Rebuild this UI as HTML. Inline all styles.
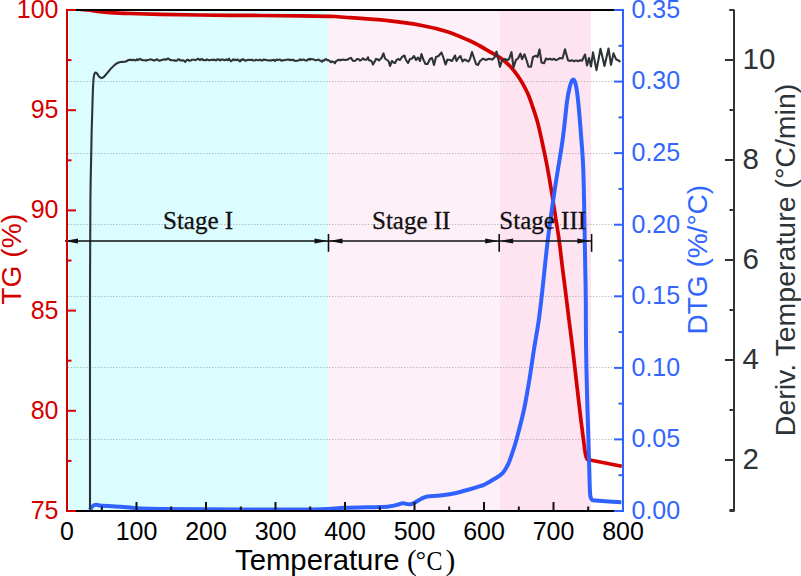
<!DOCTYPE html>
<html><head><meta charset="utf-8"><style>
html,body{margin:0;padding:0;background:#fff;width:801px;height:576px;overflow:hidden}
svg{display:block;font-family:"Liberation Sans", sans-serif}
</style></head><body>
<svg width="801" height="576" viewBox="0 0 801 576" font-family="Liberation Sans">
<rect x="0" y="0" width="801" height="576" fill="#fff"/>
<rect x="67.0" y="10.0" width="261.5" height="501.0" fill="#dcfdff"/>
<rect x="328.5" y="10.0" width="171.3" height="501.0" fill="#fef0f8"/>
<rect x="499.8" y="10.0" width="91.19999999999999" height="501.0" fill="#fde4f0"/>
<line x1="68.0" y1="439.5" x2="612" y2="439.5" stroke="#8c9696" stroke-opacity="0.55" stroke-width="1" stroke-dasharray="1.5 1.5"/>
<line x1="68.0" y1="367.5" x2="612" y2="367.5" stroke="#8c9696" stroke-opacity="0.55" stroke-width="1" stroke-dasharray="1.5 1.5"/>
<line x1="68.0" y1="296.5" x2="612" y2="296.5" stroke="#8c9696" stroke-opacity="0.55" stroke-width="1" stroke-dasharray="1.5 1.5"/>
<line x1="68.0" y1="224.5" x2="612" y2="224.5" stroke="#8c9696" stroke-opacity="0.55" stroke-width="1" stroke-dasharray="1.5 1.5"/>
<line x1="68.0" y1="153.5" x2="612" y2="153.5" stroke="#8c9696" stroke-opacity="0.55" stroke-width="1" stroke-dasharray="1.5 1.5"/>
<line x1="68.0" y1="81.5" x2="612" y2="81.5" stroke="#8c9696" stroke-opacity="0.55" stroke-width="1" stroke-dasharray="1.5 1.5"/>
<defs><clipPath id="pc"><rect x="67" y="10.2" width="556" height="500.8"/></clipPath></defs>
<path clip-path="url(#pc)" d="M76.00 8.60 C78.00 8.83 84.33 9.52 88.00 10.00 C91.67 10.48 94.33 11.07 98.00 11.50 C101.67 11.93 104.67 12.27 110.00 12.60 C115.33 12.93 121.67 13.22 130.00 13.50 C138.33 13.78 148.33 14.05 160.00 14.30 C171.67 14.55 183.33 14.80 200.00 15.00 C216.67 15.20 243.33 15.37 260.00 15.50 C276.67 15.63 288.33 15.67 300.00 15.80 C311.67 15.93 323.17 16.10 330.00 16.30 C336.83 16.50 332.05 16.35 341.00 17.00 C349.95 17.65 370.22 18.78 383.70 20.20 C397.18 21.62 411.28 23.57 421.90 25.50 C432.52 27.43 439.62 29.33 447.40 31.80 C455.18 34.27 463.17 37.93 468.60 40.30 C474.03 42.67 476.43 44.08 480.00 46.00 C483.57 47.92 486.63 49.83 490.00 51.80 C493.37 53.77 496.77 55.32 500.20 57.80 C503.63 60.28 507.65 63.67 510.60 66.70 C513.55 69.73 515.82 73.05 517.90 76.00 C519.98 78.95 521.37 81.27 523.10 84.40 C524.83 87.53 526.73 91.15 528.30 94.80 C529.87 98.45 530.97 101.77 532.50 106.30 C534.03 110.83 535.97 116.38 537.50 122.00 C539.03 127.62 540.13 132.83 541.70 140.00 C543.27 147.17 545.30 156.67 546.90 165.00 C548.50 173.33 549.92 181.67 551.30 190.00 C552.68 198.33 553.90 206.67 555.20 215.00 C556.50 223.33 557.95 231.67 559.10 240.00 C560.25 248.33 561.07 256.67 562.10 265.00 C563.13 273.33 564.15 280.83 565.30 290.00 C566.45 299.17 567.75 310.00 569.00 320.00 C570.25 330.00 571.40 338.33 572.80 350.00 C574.20 361.67 576.05 378.33 577.40 390.00 C578.75 401.67 579.88 411.67 580.90 420.00 C581.92 428.33 582.72 434.17 583.50 440.00 C584.28 445.83 584.95 451.75 585.60 455.00 C586.25 458.25 587.10 458.75 587.40 459.50 L621.8 466.2" fill="none" stroke="#d40000" stroke-width="3.7" stroke-linejoin="round"/>
<path d="M90.00 510.00 C90.25 509.58 90.83 508.30 91.50 507.50 C92.17 506.70 93.08 505.65 94.00 505.20 C94.92 504.75 96.00 504.77 97.00 504.80 C98.00 504.83 97.00 505.12 100.00 505.40 C103.00 505.68 110.00 506.15 115.00 506.50 C120.00 506.85 125.83 507.18 130.00 507.50 C134.17 507.82 135.00 508.15 140.00 508.40 C145.00 508.65 150.00 508.85 160.00 509.00 C170.00 509.15 180.00 509.22 200.00 509.30 C220.00 509.38 259.67 509.52 280.00 509.50 C300.33 509.48 311.17 509.48 322.00 509.20 C332.83 508.92 335.33 508.17 345.00 507.80 C354.67 507.43 372.50 507.25 380.00 507.00 C387.50 506.75 387.00 506.72 390.00 506.30 C393.00 505.88 395.92 505.02 398.00 504.50 C400.08 503.98 401.00 503.28 402.50 503.20 C404.00 503.12 405.58 503.83 407.00 504.00 C408.42 504.17 409.67 504.45 411.00 504.20 C412.33 503.95 413.33 503.37 415.00 502.50 C416.67 501.63 418.92 500.00 421.00 499.00 C423.08 498.00 424.33 497.07 427.50 496.50 C430.67 495.93 435.42 496.15 440.00 495.60 C444.58 495.05 450.00 494.27 455.00 493.20 C460.00 492.13 465.83 490.37 470.00 489.20 C474.17 488.03 477.47 487.03 480.00 486.20 C482.53 485.37 482.77 485.43 485.20 484.20 C487.63 482.97 491.65 480.70 494.60 478.80 C497.55 476.90 500.63 475.23 502.90 472.80 C505.17 470.37 506.63 467.52 508.20 464.20 C509.77 460.88 510.92 457.03 512.30 452.90 C513.68 448.77 514.57 446.55 516.50 439.40 C518.43 432.25 521.82 419.57 523.90 410.00 C525.98 400.43 527.33 392.00 529.00 382.00 C530.67 372.00 532.27 360.33 533.90 350.00 C535.53 339.67 537.38 330.00 538.80 320.00 C540.22 310.00 540.90 303.33 542.40 290.00 C543.90 276.67 545.75 256.67 547.80 240.00 C549.85 223.33 552.23 206.67 554.70 190.00 C557.17 173.33 560.55 154.72 562.60 140.00 C564.65 125.28 565.77 110.70 567.00 101.70 C568.23 92.70 569.02 89.68 570.00 86.00 C570.98 82.32 571.97 79.93 572.90 79.60 C573.83 79.27 574.72 80.32 575.60 84.00 C576.48 87.68 577.23 92.37 578.20 101.70 C579.17 111.03 580.55 128.62 581.40 140.00 C582.25 151.38 582.77 155.00 583.30 170.00 C583.83 185.00 584.27 213.33 584.60 230.00 C584.93 246.67 585.10 258.33 585.30 270.00 C585.50 281.67 585.67 286.67 585.80 300.00 C585.93 313.33 585.87 333.33 586.10 350.00 C586.33 366.67 586.92 388.33 587.20 400.00 C587.48 411.67 587.55 411.67 587.80 420.00 C588.05 428.33 588.45 441.67 588.70 450.00 C588.95 458.33 589.13 464.17 589.30 470.00 C589.47 475.83 589.57 481.00 589.70 485.00 C589.83 489.00 589.90 491.80 590.10 494.00 C590.30 496.20 590.48 497.20 590.90 498.20 C591.32 499.20 591.83 499.60 592.60 500.00 C593.37 500.40 590.70 500.23 595.50 500.60 C600.30 500.97 617.08 501.93 621.40 502.20" fill="none" stroke="#3062ff" stroke-width="4" stroke-linejoin="round"/>
<path d="M90.00 509.50 C90.00 494.58 90.00 453.92 90.00 420.00 C90.00 386.08 89.93 342.50 90.00 306.00 C90.07 269.50 90.18 226.83 90.40 201.00 C90.62 175.17 91.08 162.83 91.30 151.00 C91.52 139.17 91.53 136.83 91.70 130.00 C91.87 123.17 92.10 116.67 92.30 110.00 C92.50 103.33 92.72 94.83 92.90 90.00 C93.08 85.17 93.23 83.33 93.40 81.00 C93.57 78.67 93.60 77.40 93.90 76.00 C94.20 74.60 94.68 73.02 95.20 72.60 C95.72 72.18 96.37 72.85 97.00 73.50 C97.63 74.15 98.27 75.75 99.00 76.50 C99.73 77.25 100.65 77.88 101.40 78.00 C102.15 78.12 102.73 77.78 103.50 77.20 C104.27 76.62 105.17 75.45 106.00 74.50 C106.83 73.55 107.67 72.50 108.50 71.50 C109.33 70.50 110.02 69.55 111.00 68.50 C111.98 67.45 113.40 66.08 114.40 65.20 C115.40 64.32 115.97 63.73 117.00 63.20 C118.03 62.67 119.43 62.23 120.60 62.00 C121.77 61.77 123.10 61.88 124.00 61.80 C124.90 61.72 125.33 61.77 126.00 61.50 C126.67 61.23 127.33 60.48 128.00 60.20 C128.67 59.92 129.67 59.87 130.00 59.80 L131.0 59.9 L132.0 60.2 L133.0 59.7 L134.0 59.8 L135.0 60.4 L136.0 60.3 L137.0 59.4 L138.0 60.1 L139.0 59.3 L140.0 58.9 L141.0 59.7 L142.0 59.9 L143.0 60.1 L144.0 60.2 L145.0 60.3 L146.0 60.7 L147.0 60.1 L148.0 60.0 L149.0 59.8 L150.0 59.5 L151.0 59.4 L152.0 59.9 L153.0 60.0 L154.0 60.6 L155.0 60.2 L156.0 59.7 L157.0 59.2 L158.0 60.1 L159.0 60.7 L160.0 60.4 L161.0 60.4 L162.0 59.9 L163.0 59.5 L164.0 59.6 L165.0 59.2 L166.0 59.8 L167.0 59.1 L168.0 58.5 L169.0 58.9 L170.0 60.0 L171.0 60.1 L172.0 60.2 L173.0 60.3 L174.0 60.4 L175.0 60.6 L176.0 60.5 L177.0 60.6 L178.0 59.4 L179.0 59.2 L180.0 60.4 L181.0 60.3 L182.0 60.4 L183.0 60.3 L184.0 60.7 L185.0 61.9 L186.0 60.9 L187.0 59.8 L188.0 59.7 L189.0 60.8 L190.0 60.6 L191.0 60.4 L192.0 59.7 L193.0 59.8 L194.0 59.8 L195.0 60.1 L196.0 60.0 L197.0 59.3 L198.0 58.7 L199.0 59.3 L200.0 60.1 L201.0 59.4 L202.0 58.9 L203.0 60.0 L204.0 60.3 L205.0 60.0 L206.0 60.2 L207.0 59.4 L208.0 59.9 L209.0 60.4 L210.0 60.0 L211.0 60.0 L212.0 59.6 L213.0 60.2 L214.0 59.6 L215.0 59.9 L216.0 60.5 L217.0 59.6 L218.0 59.3 L219.0 59.8 L220.0 60.4 L221.0 59.4 L222.0 59.8 L223.0 59.6 L224.0 59.9 L225.0 60.2 L226.0 59.4 L227.0 59.9 L228.0 60.1 L229.0 58.7 L230.0 60.3 L231.0 61.3 L232.0 60.5 L233.0 59.4 L234.0 60.2 L235.0 59.5 L236.0 60.1 L237.0 59.9 L238.0 59.5 L239.0 60.6 L240.0 61.4 L241.0 59.9 L242.0 60.1 L243.0 59.0 L244.0 59.8 L245.0 60.7 L246.0 60.4 L247.0 60.2 L248.0 59.8 L249.0 60.0 L250.0 59.9 L251.0 60.0 L252.0 59.6 L253.0 60.5 L254.0 60.5 L255.0 60.4 L256.0 59.7 L257.0 60.0 L258.0 60.2 L259.0 60.2 L260.0 59.5 L261.0 60.2 L262.0 60.6 L263.0 60.0 L264.0 59.5 L265.0 59.9 L266.0 59.9 L267.0 60.3 L268.0 60.4 L269.0 60.5 L270.0 60.4 L271.0 60.3 L272.0 60.4 L273.0 59.8 L274.0 59.9 L275.0 60.9 L276.0 59.9 L277.0 59.5 L278.0 60.0 L279.0 59.8 L280.0 59.5 L281.0 60.4 L282.0 60.7 L283.0 60.0 L284.0 60.3 L285.0 60.1 L286.0 59.8 L287.0 59.8 L288.0 59.6 L289.0 59.5 L290.0 60.1 L291.0 59.7 L292.0 60.2 L293.0 59.7 L294.0 60.2 L295.0 60.9 L296.0 61.0 L297.0 60.7 L298.0 60.5 L299.0 60.2 L300.0 59.3 L301.0 60.1 L302.0 59.9 L303.0 59.5 L304.0 59.8 L305.0 60.3 L306.0 60.6 L307.0 60.4 L308.0 59.5 L309.0 59.0 L310.0 59.6 L311.0 58.9 L312.0 59.2 L313.0 59.3 L314.0 59.6 L315.0 60.2 L316.0 60.2 L317.0 60.1 L318.0 59.6 L319.0 59.8 L320.0 60.6 L321.0 60.8 L322.0 61.7 L323.0 60.4 L324.0 60.6 L325.0 59.5 L326.0 59.1 L327.0 60.1 L328.0 60.0 L329.0 60.4 L330.0 61.4 L331.0 62.3 L332.0 61.4 L333.0 61.7 L334.0 62.2 L335.0 63.3 L336.0 61.1 L337.0 60.7 L338.0 59.9 L339.0 59.8 L340.0 60.4 L341.0 59.7 L342.0 60.0 L343.0 59.6 L344.0 59.7 L345.0 59.9 L346.0 60.0 L347.0 59.6 L348.0 59.4 L349.0 58.6 L350.0 58.2 L351.0 57.9 L352.0 59.4 L353.0 60.8 L354.0 61.0 L355.0 60.8 L356.0 60.0 L357.0 59.1 L358.0 59.0 L359.0 59.4 L360.0 60.6 L361.0 60.1 L362.0 59.3 L363.0 58.3 L364.0 59.3 L365.0 59.8 L366.0 59.7 L367.0 59.3 L368.0 57.3 L369.0 60.3 L370.0 60.5 L371.0 60.8 L372.0 61.9 L373.0 64.6 L374.0 62.6 L375.0 61.2 L376.0 58.9 L377.0 59.4 L378.0 59.4 L379.0 60.5 L380.0 59.5 L381.5 58.0 L383.5 53.4 L385.0 58.5 L387.0 60.0 L388.5 61.0 L390.0 66.0 L392.0 61.0 L393.5 62.5 L395.0 63.0 L396.5 60.0 L398.0 59.0 L400.0 60.0 L402.0 57.0 L404.5 55.5 L406.0 60.0 L408.0 63.0 L410.0 59.0 L412.0 58.5 L414.0 56.0 L416.0 60.0 L418.0 57.5 L420.0 61.0 L421.5 54.0 L423.5 60.0 L425.5 64.0 L427.5 64.0 L430.0 59.0 L432.0 58.0 L434.0 65.0 L436.0 57.0 L438.5 56.0 L441.5 52.5 L443.5 58.0 L445.5 64.5 L447.5 59.5 L450.0 60.0 L452.0 61.0 L455.0 55.5 L456.5 61.0 L458.5 58.0 L460.5 56.0 L462.5 61.5 L464.5 59.5 L466.5 60.5 L468.5 61.5 L470.0 59.0 L472.0 52.0 L474.0 58.0 L476.0 64.0 L478.0 65.0 L480.0 61.0 L483.0 58.6 L486.0 60.0 L489.0 58.8 L492.0 59.6 L494.5 57.5 L496.5 51.5 L498.5 60.0 L500.0 66.8 L501.5 62.0 L503.0 59.9 L505.0 59.0 L507.0 60.2 L509.0 59.2 L511.5 52.2 L513.5 67.5 L516.0 59.9 L518.0 58.5 L520.5 53.6 L522.0 59.2 L524.5 54.3 L526.5 60.0 L528.5 66.8 L531.0 66.8 L533.0 57.0 L536.0 55.7 L537.5 57.0 L539.5 49.4 L541.5 62.6 L544.0 63.3 L546.0 58.5 L548.0 59.5 L550.0 58.6 L552.0 59.8 L554.0 58.8 L556.0 60.1 L558.0 59.2 L560.0 58.0 L562.5 58.5 L565.0 49.3 L568.0 60.2 L570.0 61.0 L572.0 60.2 L574.0 61.3 L576.0 60.4 L578.0 61.2 L580.0 60.3 L582.0 60.8 L585.0 54.5 L587.0 65.4 L589.0 58.0 L591.0 66.5 L593.0 52.4 L596.5 70.1 L600.5 48.8 L604.5 66.0 L608.5 48.5 L611.0 64.9 L613.5 53.4 L616.0 59.2 L618.0 60.2 L620.4 61.8" fill="none" stroke="#2e3336" stroke-width="2.1" stroke-linejoin="round"/>
<line x1="65" y1="241" x2="591.5" y2="241" stroke="#111" stroke-width="1.6"/>
<line x1="328.5" y1="234" x2="328.5" y2="251.8" stroke="#111" stroke-width="1.6"/>
<line x1="499.2" y1="234" x2="499.2" y2="251.8" stroke="#111" stroke-width="1.6"/>
<line x1="591.6" y1="234" x2="591.6" y2="251.8" stroke="#111" stroke-width="1.6"/>
<path d="M64.5 241 L78.0 238.4 L78.0 243.6 Z" fill="#111"/>
<path d="M328.0 241 L314.5 238.4 L314.5 243.6 Z" fill="#111"/>
<path d="M329.0 241 L342.5 238.4 L342.5 243.6 Z" fill="#111"/>
<path d="M498.7 241 L485.2 238.4 L485.2 243.6 Z" fill="#111"/>
<path d="M499.7 241 L513.2 238.4 L513.2 243.6 Z" fill="#111"/>
<path d="M590.8 241 L577.3 238.4 L577.3 243.6 Z" fill="#111"/>
<text x="163" y="228.5" font-family="Liberation Serif" font-size="25" fill="#111" stroke="#111" stroke-width="0.3">Stage I</text>
<text x="372" y="228.5" font-family="Liberation Serif" font-size="25" fill="#111" stroke="#111" stroke-width="0.3">Stage II</text>
<text x="499.3" y="228.5" font-family="Liberation Serif" font-size="25" fill="#111" stroke="#111" stroke-width="0.3">Stage III</text>
<!-- frame -->
<line x1="76" y1="10.0" x2="614" y2="10.0" stroke="#000" stroke-width="2"/>
<line x1="76" y1="511.0" x2="614" y2="511.0" stroke="#000" stroke-width="2"/>
<line x1="66.0" y1="10.0" x2="76" y2="10.0" stroke="#d40000" stroke-width="2"/>
<line x1="66.0" y1="511.0" x2="76" y2="511.0" stroke="#d40000" stroke-width="2"/>
<line x1="614" y1="10.0" x2="624.0" y2="10.0" stroke="#3062ff" stroke-width="2"/>
<line x1="614" y1="511.0" x2="624.0" y2="511.0" stroke="#3062ff" stroke-width="2"/>
<line x1="67.0" y1="9.0" x2="67.0" y2="512.0" stroke="#d40000" stroke-width="2"/>
<line x1="623.0" y1="9.0" x2="623.0" y2="512.0" stroke="#3062ff" stroke-width="2"/>
<line x1="67.0" y1="511.0" x2="67.0" y2="502.0" stroke="#d40000" stroke-width="2"/>
<line x1="101.8" y1="511.0" x2="101.8" y2="506.5" stroke="#111" stroke-width="2"/>
<line x1="136.5" y1="511.0" x2="136.5" y2="502.0" stroke="#111" stroke-width="2"/>
<line x1="171.2" y1="511.0" x2="171.2" y2="506.5" stroke="#111" stroke-width="2"/>
<line x1="206.0" y1="511.0" x2="206.0" y2="502.0" stroke="#111" stroke-width="2"/>
<line x1="240.8" y1="511.0" x2="240.8" y2="506.5" stroke="#111" stroke-width="2"/>
<line x1="275.5" y1="511.0" x2="275.5" y2="502.0" stroke="#111" stroke-width="2"/>
<line x1="310.2" y1="511.0" x2="310.2" y2="506.5" stroke="#111" stroke-width="2"/>
<line x1="345.0" y1="511.0" x2="345.0" y2="502.0" stroke="#111" stroke-width="2"/>
<line x1="379.8" y1="511.0" x2="379.8" y2="506.5" stroke="#111" stroke-width="2"/>
<line x1="414.5" y1="511.0" x2="414.5" y2="502.0" stroke="#111" stroke-width="2"/>
<line x1="449.2" y1="511.0" x2="449.2" y2="506.5" stroke="#111" stroke-width="2"/>
<line x1="484.0" y1="511.0" x2="484.0" y2="502.0" stroke="#111" stroke-width="2"/>
<line x1="518.8" y1="511.0" x2="518.8" y2="506.5" stroke="#111" stroke-width="2"/>
<line x1="553.5" y1="511.0" x2="553.5" y2="502.0" stroke="#111" stroke-width="2"/>
<line x1="588.2" y1="511.0" x2="588.2" y2="506.5" stroke="#111" stroke-width="2"/>
<line x1="623.0" y1="511.0" x2="623.0" y2="502.0" stroke="#3062ff" stroke-width="2"/>
<line x1="67.0" y1="511.0" x2="76.0" y2="511.0" stroke="#d40000" stroke-width="2"/>
<line x1="67.0" y1="460.9" x2="71.5" y2="460.9" stroke="#d40000" stroke-width="2"/>
<line x1="67.0" y1="410.8" x2="76.0" y2="410.8" stroke="#d40000" stroke-width="2"/>
<line x1="67.0" y1="360.7" x2="71.5" y2="360.7" stroke="#d40000" stroke-width="2"/>
<line x1="67.0" y1="310.6" x2="76.0" y2="310.6" stroke="#d40000" stroke-width="2"/>
<line x1="67.0" y1="260.5" x2="71.5" y2="260.5" stroke="#d40000" stroke-width="2"/>
<line x1="67.0" y1="210.4" x2="76.0" y2="210.4" stroke="#d40000" stroke-width="2"/>
<line x1="67.0" y1="160.3" x2="71.5" y2="160.3" stroke="#d40000" stroke-width="2"/>
<line x1="67.0" y1="110.2" x2="76.0" y2="110.2" stroke="#d40000" stroke-width="2"/>
<line x1="67.0" y1="60.1" x2="71.5" y2="60.1" stroke="#d40000" stroke-width="2"/>
<line x1="67.0" y1="10.0" x2="76.0" y2="10.0" stroke="#d40000" stroke-width="2"/>
<line x1="623.0" y1="511.0" x2="614.0" y2="511.0" stroke="#3062ff" stroke-width="2"/>
<line x1="623.0" y1="475.2" x2="618.5" y2="475.2" stroke="#3062ff" stroke-width="2"/>
<line x1="623.0" y1="439.4" x2="614.0" y2="439.4" stroke="#3062ff" stroke-width="2"/>
<line x1="623.0" y1="403.6" x2="618.5" y2="403.6" stroke="#3062ff" stroke-width="2"/>
<line x1="623.0" y1="367.9" x2="614.0" y2="367.9" stroke="#3062ff" stroke-width="2"/>
<line x1="623.0" y1="332.1" x2="618.5" y2="332.1" stroke="#3062ff" stroke-width="2"/>
<line x1="623.0" y1="296.3" x2="614.0" y2="296.3" stroke="#3062ff" stroke-width="2"/>
<line x1="623.0" y1="260.5" x2="618.5" y2="260.5" stroke="#3062ff" stroke-width="2"/>
<line x1="623.0" y1="224.7" x2="614.0" y2="224.7" stroke="#3062ff" stroke-width="2"/>
<line x1="623.0" y1="188.9" x2="618.5" y2="188.9" stroke="#3062ff" stroke-width="2"/>
<line x1="623.0" y1="153.1" x2="614.0" y2="153.1" stroke="#3062ff" stroke-width="2"/>
<line x1="623.0" y1="117.4" x2="618.5" y2="117.4" stroke="#3062ff" stroke-width="2"/>
<line x1="623.0" y1="81.6" x2="614.0" y2="81.6" stroke="#3062ff" stroke-width="2"/>
<line x1="623.0" y1="45.8" x2="618.5" y2="45.8" stroke="#3062ff" stroke-width="2"/>
<line x1="623.0" y1="10.0" x2="614.0" y2="10.0" stroke="#3062ff" stroke-width="2"/>
<line x1="734" y1="9.5" x2="734" y2="511.5" stroke="#2e3336" stroke-width="2"/>
<line x1="729.5" y1="10" x2="734" y2="10" stroke="#2e3336" stroke-width="2"/>
<line x1="729.5" y1="511" x2="734" y2="511" stroke="#2e3336" stroke-width="2"/>
<line x1="734" y1="510.0" x2="729.5" y2="510.0" stroke="#2e3336" stroke-width="2"/>
<line x1="734" y1="460.0" x2="725" y2="460.0" stroke="#2e3336" stroke-width="2"/>
<line x1="734" y1="410.0" x2="729.5" y2="410.0" stroke="#2e3336" stroke-width="2"/>
<line x1="734" y1="360.0" x2="725" y2="360.0" stroke="#2e3336" stroke-width="2"/>
<line x1="734" y1="310.0" x2="729.5" y2="310.0" stroke="#2e3336" stroke-width="2"/>
<line x1="734" y1="260.0" x2="725" y2="260.0" stroke="#2e3336" stroke-width="2"/>
<line x1="734" y1="210.0" x2="729.5" y2="210.0" stroke="#2e3336" stroke-width="2"/>
<line x1="734" y1="160.0" x2="725" y2="160.0" stroke="#2e3336" stroke-width="2"/>
<line x1="734" y1="110.0" x2="729.5" y2="110.0" stroke="#2e3336" stroke-width="2"/>
<line x1="734" y1="60.0" x2="725" y2="60.0" stroke="#2e3336" stroke-width="2"/>
<line x1="734" y1="10.0" x2="729.5" y2="10.0" stroke="#2e3336" stroke-width="2"/>
<text x="742.6" y="469.0" font-size="29.5" fill="#2e3336">2</text>
<text x="742.6" y="369.0" font-size="29.5" fill="#2e3336">4</text>
<text x="742.6" y="269.0" font-size="29.5" fill="#2e3336">6</text>
<text x="742.6" y="169.0" font-size="29.5" fill="#2e3336">8</text>
<text x="742.6" y="69.0" font-size="29.5" fill="#2e3336">10</text>
<text x="58.5" y="18.0" text-anchor="end" font-size="25" fill="#d40000">100</text>
<text x="58.5" y="118.2" text-anchor="end" font-size="25" fill="#d40000">95</text>
<text x="58.5" y="218.4" text-anchor="end" font-size="25" fill="#d40000">90</text>
<text x="58.5" y="318.6" text-anchor="end" font-size="25" fill="#d40000">85</text>
<text x="58.5" y="418.8" text-anchor="end" font-size="25" fill="#d40000">80</text>
<text x="58.5" y="519.0" text-anchor="end" font-size="25" fill="#d40000">75</text>
<text x="67.0" y="539.6" text-anchor="middle" font-size="25" fill="#000">0</text>
<text x="136.5" y="539.6" text-anchor="middle" font-size="25" fill="#000">100</text>
<text x="206.0" y="539.6" text-anchor="middle" font-size="25" fill="#000">200</text>
<text x="275.5" y="539.6" text-anchor="middle" font-size="25" fill="#000">300</text>
<text x="345.0" y="539.6" text-anchor="middle" font-size="25" fill="#000">400</text>
<text x="414.5" y="539.6" text-anchor="middle" font-size="25" fill="#000">500</text>
<text x="484.0" y="539.6" text-anchor="middle" font-size="25" fill="#000">600</text>
<text x="553.5" y="539.6" text-anchor="middle" font-size="25" fill="#000">700</text>
<text x="623.0" y="539.6" text-anchor="middle" font-size="25" fill="#000">800</text>
<text x="631.5" y="518.8" font-size="25" fill="#3366ff">0.00</text>
<text x="631.5" y="447.2" font-size="25" fill="#3366ff">0.05</text>
<text x="631.5" y="375.7" font-size="25" fill="#3366ff">0.10</text>
<text x="631.5" y="304.1" font-size="25" fill="#3366ff">0.15</text>
<text x="631.5" y="232.5" font-size="25" fill="#3366ff">0.20</text>
<text x="631.5" y="160.9" font-size="25" fill="#3366ff">0.25</text>
<text x="631.5" y="89.4" font-size="25" fill="#3366ff">0.30</text>
<text x="631.5" y="17.8" font-size="25" fill="#3366ff">0.35</text>
<text transform="translate(20.8 304.7) rotate(-90)" font-size="28.2" fill="#d40000">TG (%)</text>
<text x="235" y="570" font-size="29.3" fill="#000">Temperature</text>
<text x="407" y="570" font-size="29.3" font-family="Liberation Serif" fill="#000">(</text>
<text x="445.5" y="570" font-size="29.3" font-family="Liberation Serif" fill="#000">)</text>
<text x="415.8" y="567.7" font-size="25.5" font-family="Liberation Serif" fill="#000">°</text>
<text x="426.5" y="570" font-size="27" font-family="Liberation Serif" fill="#000" textLength="16" lengthAdjust="spacingAndGlyphs">C</text>
<text transform="translate(706.5 334.5) rotate(-90)" font-size="28" fill="#3366ff">DTG (%/°C)</text>
<text transform="translate(795 436.2) rotate(-90)" font-size="28.5" fill="#2e3336">Deriv. Temperature (°C/min)</text>
</svg>
</body></html>
